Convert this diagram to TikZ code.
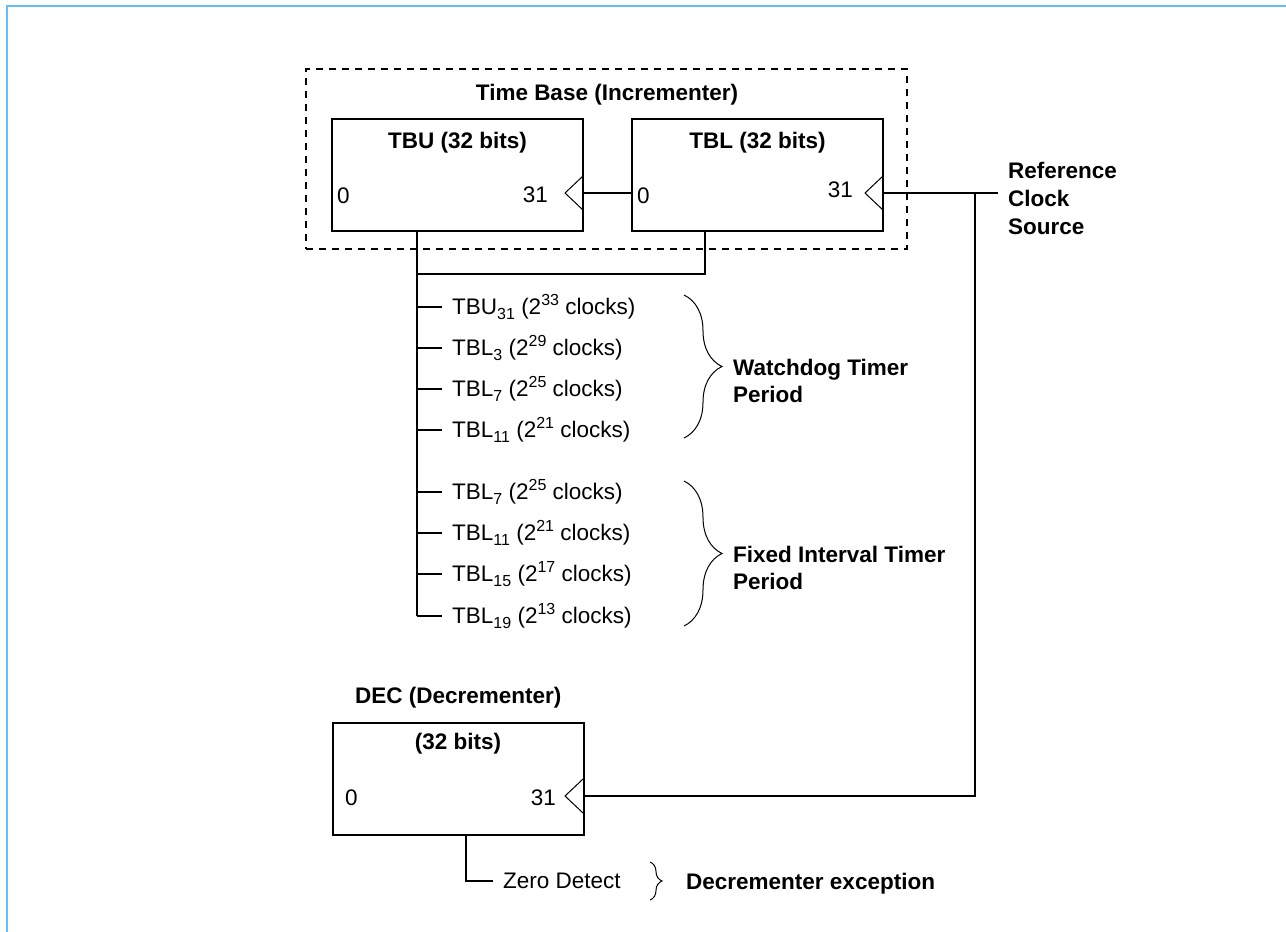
\documentclass[tikz,border=0pt]{standalone}
\usepackage{fontspec}
\setmainfont{Liberation Sans}
\usetikzlibrary{decorations.pathreplacing}
\definecolor{framecol}{RGB}{102,190,255}
\newcommand\lowsc[1]{\raisebox{-5pt}{\fontsize{16}{16}\selectfont #1}}
\newcommand\highsc[1]{\raisebox{8.5pt}{\fontsize{16}{16}\selectfont #1}}
\begin{document}
\begin{tikzpicture}[x=1pt,y=-1pt,
  txt/.style={inner sep=0pt, font=\fontsize{22.5}{27}\selectfont},
  btxt/.style={inner sep=0pt, font=\fontsize{22.5}{27}\selectfont\bfseries},
  tap/.style={txt, inner ysep=0pt, inner xsep=10pt, anchor=base west},
  regbox/.style={draw, line width=2pt, minimum width=251pt, minimum height=112pt, inner sep=0pt, outer sep=0pt},
  tbframe/.style={draw, line width=1.8pt, dash pattern=on 7pt off 6pt, minimum width=601pt, minimum height=180pt, inner sep=0pt, outer sep=0pt},
  wire/.style={line width=2pt},
  clk/.style={line width=1pt},
  brc/.style={line width=1pt, decorate, decoration={brace, amplitude=38pt, aspect=0.5}},
  smallbrc/.style={line width=1pt, decorate, decoration={brace, amplitude=12pt, aspect=0.5}},
]
\useasboundingbox (0,0) rectangle (1286,932);
\draw[line width=2pt, draw=framecol] (7,932) -- (7,6) -- (1286,6);

% Time base frame and registers
\node[tbframe] (tb) at (606.5,159) {};
\node[btxt, anchor=base] (tbtitle) at (607,100) {Time Base (Incrementer)};
\node[regbox] (tbu) at (457.5,175) {};
\node[regbox] (tbl) at (757.5,175) {};
\node[btxt, anchor=base] (tbuname) at (457.5,148) {TBU (32 bits)};
\node[btxt, anchor=base] (tblname) at (757.5,148) {TBL (32 bits)};
\node[txt, anchor=base west] (tbu0) at (337,203) {0};
\node[txt, anchor=base east] (tbu31) at (548,202) {31};
\node[txt, anchor=base west] (tbl0) at (637,203) {0};
\node[txt, anchor=base east] (tbl31) at (853,197) {31};

% clock ports
\coordinate (tbuclk) at (583,193);
\coordinate (tblin) at (632,193);
\coordinate (tblclk) at (883,193);
\draw[clk] (tbuclk) ++(0,-17) -- ++(-18,17) -- ++(18,17);
\draw[clk] (tblclk) ++(0,-17) -- ++(-18,17) -- ++(18,17);
\draw[wire] (tbuclk) -- (tblin);

% reference clock
\node[inner sep=0pt, font=\fontsize{22.5}{28}\selectfont\bfseries, align=left, anchor=west] (ref) at (1008,198) {Reference\\Clock\\Source};
\coordinate (refend) at (998,193);
\coordinate (jn) at (975,193);
\draw[wire] (tblclk) -- (refend);

% bus
\coordinate (tbubot) at (417,231);
\coordinate (tblbot) at (705,231);
\coordinate (busj) at (417,274);
\draw[wire] (tblbot) |- (busj);

\node[tap] (t1) at (442,314) {TBU\lowsc{31} (2\highsc{33} clocks)};
\node[tap] (t2) at (442,355) {TBL\lowsc{3} (2\highsc{29} clocks)};
\node[tap] (t3) at (442,396) {TBL\lowsc{7} (2\highsc{25} clocks)};
\node[tap] (t4) at (442,437) {TBL\lowsc{11} (2\highsc{21} clocks)};
\node[tap] (t5) at (442,499) {TBL\lowsc{7} (2\highsc{25} clocks)};
\node[tap] (t6) at (442,540) {TBL\lowsc{11} (2\highsc{21} clocks)};
\node[tap] (t7) at (442,581) {TBL\lowsc{15} (2\highsc{17} clocks)};
\node[tap] (t8) at (442,623) {TBL\lowsc{19} (2\highsc{13} clocks)};
\coordinate (b1) at (417,307);
\coordinate (b2) at (417,348);
\coordinate (b3) at (417,389);
\coordinate (b4) at (417,430);
\coordinate (b5) at (417,492);
\coordinate (b6) at (417,533);
\coordinate (b7) at (417,574);
\coordinate (b8) at (417,616);
\draw[wire] (tbubot) -- (b8);
\foreach \i in {1,...,8} {\draw[wire] (b\i) -- (b\i -| t\i.west);}

% braces and period labels
\coordinate (wdtop) at (684,295);
\coordinate (wdbot) at (684,438);
\coordinate (fitop) at (684,481);
\coordinate (fibot) at (684,626);
\draw[brc] (wdtop) -- (wdbot);
\draw[brc] (fitop) -- (fibot);
\node[btxt, align=left, anchor=west] (wd) at (733,381) {Watchdog Timer\\Period};
\node[btxt, align=left, anchor=west] (fit) at (733,568) {Fixed Interval Timer\\Period};

% decrementer
\node[btxt, anchor=base west] (decname) at (355,703) {DEC (Decrementer)};
\node[regbox, minimum height=112pt] (dec) at (458,779) {};
\node[btxt, anchor=base] (decbits) at (458,749) {(32 bits)};
\node[txt, anchor=base west] (dec0) at (345,805) {0};
\node[txt, anchor=base east] (dec31) at (556,805) {31};
\coordinate (decclk) at (583,796);
\draw[clk] (decclk) ++(0,-17) -- ++(-18,17) -- ++(18,17);
\draw[wire] (jn) |- (decclk);

\coordinate (decbot) at (466,835);
\node[txt, inner xsep=10pt, anchor=west] (zd) at (493,881) {Zero Detect};
\draw[wire] (decbot) |- (zd.west);
\coordinate (zdtop) at (650,862);
\coordinate (zdbot) at (650,900);
\draw[smallbrc] (zdtop) -- (zdbot);
\node[btxt, anchor=base west] (decexc) at (686,889) {Decrementer exception};
\end{tikzpicture}
\end{document}
